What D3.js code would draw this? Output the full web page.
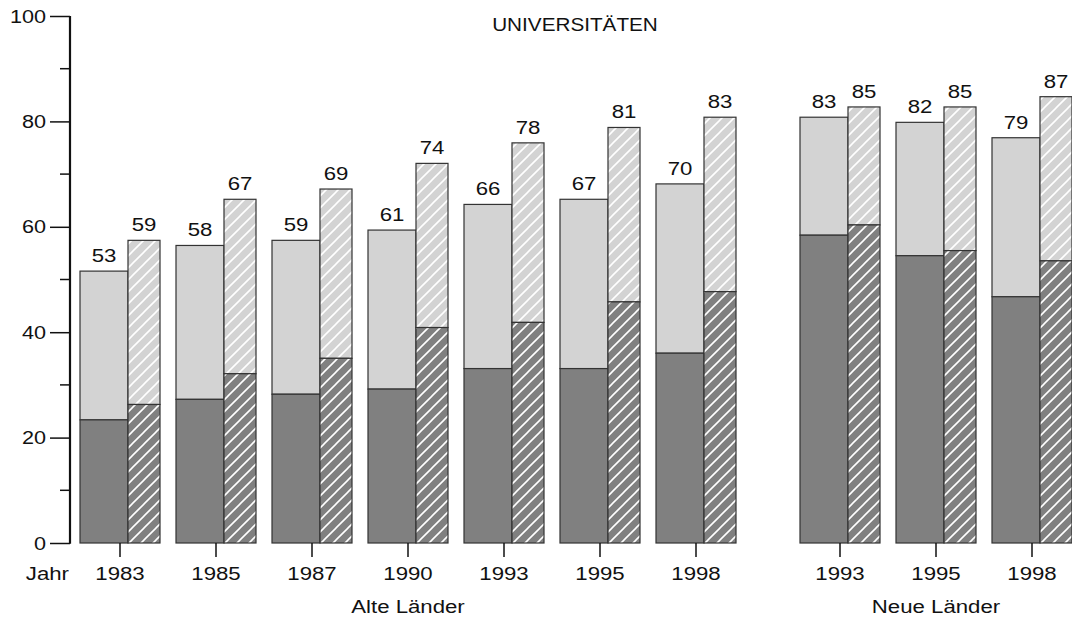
<!DOCTYPE html>
<html>
<head>
<meta charset="utf-8">
<script src="https://cdn.jsdelivr.net/npm/d3@7"></script>
<style>
  body { margin: 0; background: #fff; }
  svg { display: block; font-family: "Liberation Sans", Arial, sans-serif; }
</style>
</head>
<body>
<div id="chart-div"></div>
<script>
// データ --------------------------------------------------------------
const groups = ['Alte Länder', 'Alte Länder', 'Alte Länder', 'Alte Länder', 'Alte Länder', 'Alte Länder', 'Alte Länder', 'Neue Länder', 'Neue Länder', 'Neue Länder'];
const years = ['1983', '1985', '1987', '1990', '1993', '1995', '1998', '1993', '1995', '1998'];
// 左の棒（塗り）: 全体 / 下の部分
const solidTotal = [53, 58, 59, 61, 66, 67, 70, 83, 82, 79];
const solidLower = [24, 28, 29, 30, 34, 34, 37, 60, 56, 48];
// 右の棒（斜線）: 全体 / 下の部分
const hatchTotal = [59, 67, 69, 74, 78, 81, 83, 85, 85, 87];
const hatchLower = [27, 33, 36, 42, 43, 47, 49, 62, 57, 55];
const yTicks = [0, 20, 40, 60, 80, 100];
const yMinorTicks = [10, 30, 50, 70, 90];
const title = 'UNIVERSITÄTEN';

const width = 1072, height = 618;
const light = '#d3d3d3', dark = '#808080', edge = '#333';

const svg = d3.select('#chart-div').append('svg')
  .attr('width', width)
  .attr('height', height);

const defs = svg.append('defs');
[['hatch-light', light], ['hatch-dark', dark]].forEach(([id, c]) => {
  const p = defs.append('pattern')
    .attr('id', id)
    .attr('patternUnits', 'userSpaceOnUse')
    .attr('width', 12)
    .attr('height', 12);
  p.append('rect').attr('width', 12).attr('height', 12).attr('fill', c);
  p.append('path')
    .attr('d', 'M-3,3 L3,-3 M0,12 L12,0 M9,15 L15,9')
    .attr('stroke', '#fff')
    .attr('stroke-width', 1.6);
});

// スケール -------------------------------------------------------------
const slot = years.map((d, i) => i + (groups[i] === 'Neue Länder' ? 0.5 : 0));
const x = d3.scaleLinear().domain([0, 9.5]).range([120, 1032]);
const y = d3.scaleLinear().domain([0, 100]).range([543, 30]);
const yAxisScale = d3.scaleLinear().domain([0, 100]).range([543, 16]);

// 横に伸ばした文字
const stretchText = (g, tx, ty, str, size, sx, anchor) => g.append('text')
  .attr('transform', 'translate(' + tx + ',' + ty + ') scale(' + sx + ',1)')
  .attr('text-anchor', anchor)
  .attr('font-size', size + 'px')
  .attr('fill', '#111')
  .text(str);

// 棒 ----------------------------------------------------------------------
const bars = svg.append('g');
years.forEach((yr, i) => {
  const cx = x(slot[i]);
  const specs = [
    { x0: cx - 40, w: 48, total: solidTotal[i], lower: solidLower[i], fillL: light, fillD: dark },
    { x0: cx + 8, w: 32, total: hatchTotal[i], lower: hatchLower[i], fillL: 'url(#hatch-light)', fillD: 'url(#hatch-dark)' }
  ];
  specs.forEach(s => {
    bars.append('rect')
      .attr('x', s.x0).attr('y', y(s.total))
      .attr('width', s.w).attr('height', y(s.lower) - y(s.total))
      .attr('fill', s.fillL).attr('stroke', edge).attr('stroke-width', 1.2);
    bars.append('rect')
      .attr('x', s.x0).attr('y', y(s.lower))
      .attr('width', s.w).attr('height', y(0) - y(s.lower))
      .attr('fill', s.fillD).attr('stroke', edge).attr('stroke-width', 1.2);
    stretchText(bars, s.x0 + s.w / 2, y(s.total) - 9, s.total, 18.5, 1.2, 'middle');
  });
  // 目盛りと年
  bars.append('line')
    .attr('x1', cx).attr('x2', cx)
    .attr('y1', y(0)).attr('y2', y(0) + 14)
    .attr('stroke', '#111').attr('stroke-width', 1.5);
  stretchText(bars, cx, 580, yr, 18.5, 1.2, 'middle');
});

// Y軸 --------------------------------------------------------------------
const axisG = svg.append('g').attr('transform', 'translate(70,0)');
axisG.call(d3.axisLeft(yAxisScale).tickValues(yTicks).tickSize(20).tickFormat(''));
axisG.select('.domain').remove();
axisG.selectAll('.tick line').attr('stroke', '#111').attr('stroke-width', 1.5);
axisG.append('line')
  .attr('x1', 0).attr('x2', 0)
  .attr('y1', yAxisScale(100)).attr('y2', yAxisScale(0) + 0.75)
  .attr('stroke', '#111').attr('stroke-width', 2.2);
axisG.selectAll('.minor')
  .data(yMinorTicks)
  .enter()
  .append('line')
  .attr('x1', -10).attr('x2', 0)
  .attr('y1', d => yAxisScale(d)).attr('y2', d => yAxisScale(d))
  .attr('stroke', '#111').attr('stroke-width', 1.5);
yTicks.forEach(t => stretchText(svg, 46, yAxisScale(t) + 6.5, t, 18.5, 1.17, 'end'));

// 表題・軸名 --------------------------------------------------------------
stretchText(svg, 575, 31, title, 18.5, 1.12, 'middle');
stretchText(svg, 69, 580, 'Jahr', 18.5, 1.2, 'end');
const groupNames = Array.from(new Set(groups));
groupNames.forEach(name => {
  const idx = slot.filter((s, i) => groups[i] === name);
  stretchText(svg, x((d3.min(idx) + d3.max(idx)) / 2), 613, name, 18.5, 1.2, 'middle');
});
</script>
</body>
</html>
